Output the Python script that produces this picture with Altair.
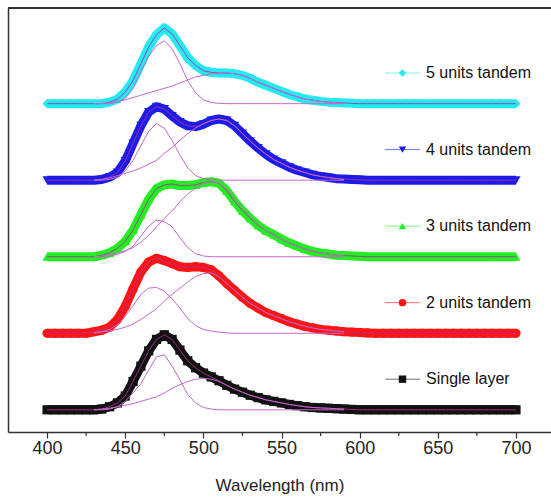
import altair as alt
import pandas as pd

# wavelength grid of the measured spectra (nm)
wavelengths = list(range(400, 705, 5))
# wavelength grid of the fitted Gaussian components (nm)
comp_wavelengths = list(range(430, 595, 5))

series_names = ["Single layer", "2 units tandem", "3 units tandem", "4 units tandem", "5 units tandem"]
series_offsets = [0, 1, 2, 3, 4]
series_colors = ["#111111", "#ff1414", "#22ee22", "#1c1ce6", "#22eaf0"]
series_shapes = ["square", "circle", "triangle-up", "triangle-down", "diamond"]

Z20 = [0.0] * 20

single_layer = [0, 0, 0, 0, 0, 0, 0,
                0.01, 0.04, 0.09, 0.18, 0.37, 0.57, 0.77, 0.92, 0.98, 0.92, 0.78, 0.64, 0.55, 0.48,
                0.43, 0.38, 0.32, 0.27, 0.23, 0.19, 0.16, 0.13, 0.11, 0.09, 0.07, 0.055, 0.04, 0.03,
                0.025, 0.02, 0.015, 0.01, 0.005, 0.0] + Z20
units2 = [0, 0, 0, 0, 0, 0,
          0.02, 0.04, 0.08, 0.18, 0.35, 0.58, 0.80, 0.93, 0.98, 0.95, 0.91, 0.87, 0.86, 0.87,
          0.86, 0.83, 0.75, 0.65, 0.56, 0.47, 0.39, 0.33, 0.27, 0.23, 0.19, 0.15, 0.12, 0.09,
          0.07, 0.05, 0.04, 0.03, 0.02, 0.015, 0.01, 0.005] + [0.0] * 19
units3 = [0, 0, 0, 0, 0, 0, 0,
          0.02, 0.05, 0.11, 0.20, 0.35, 0.55, 0.75, 0.89, 0.94, 0.95, 0.93, 0.93, 0.94, 0.97,
          0.98, 0.96, 0.86, 0.72, 0.60, 0.50, 0.41, 0.34, 0.29, 0.23, 0.18, 0.14, 0.10, 0.07,
          0.05, 0.035, 0.02, 0.015, 0.01, 0.005] + Z20
units4 = [0, 0, 0, 0, 0, 0, 0,
          0.01, 0.04, 0.10, 0.25, 0.48, 0.71, 0.89, 0.96, 0.93, 0.84, 0.76, 0.71, 0.70, 0.73,
          0.78, 0.80, 0.78, 0.71, 0.61, 0.51, 0.42, 0.34, 0.27, 0.22, 0.17, 0.13, 0.10, 0.07,
          0.05, 0.035, 0.02, 0.015, 0.01, 0.005] + Z20
units5 = [0, 0, 0, 0, 0, 0, 0, 0,
          0.02, 0.06, 0.15, 0.30, 0.52, 0.74, 0.90, 0.99, 0.91, 0.76, 0.60, 0.50, 0.43,
          0.41, 0.40, 0.40, 0.39, 0.37, 0.33, 0.28, 0.24, 0.20, 0.16, 0.12, 0.09, 0.06, 0.045,
          0.03, 0.02, 0.015, 0.01, 0.005, 0.0] + Z20

# Gaussian fit components, 430..590 nm
c1_single = [0, 0, 0.01, 0.04, 0.11, 0.22, 0.34, 0.52, 0.69, 0.72, 0.57, 0.39, 0.20, 0.09, 0.03, 0.01] + [0.0] * 17
c2_single = [0, 0.01, 0.02, 0.04, 0.06, 0.08, 0.11, 0.14, 0.17, 0.22, 0.28, 0.33, 0.37, 0.40, 0.41, 0.40,
             0.37, 0.32, 0.27, 0.23, 0.19, 0.16, 0.13, 0.11, 0.09, 0.07, 0.055, 0.04, 0.03, 0.025, 0.02, 0.015, 0.01]
c1_2u = [0, 0.02, 0.05, 0.11, 0.22, 0.36, 0.51, 0.59, 0.60, 0.55, 0.45, 0.33, 0.19, 0.10, 0.05, 0.03, 0.015, 0.005] + [0.0] * 15
c2_2u = [0.01, 0.02, 0.03, 0.05, 0.08, 0.12, 0.18, 0.25, 0.32, 0.42, 0.51, 0.59, 0.67, 0.74, 0.78, 0.79,
         0.74, 0.65, 0.56, 0.47, 0.39, 0.33, 0.27, 0.23, 0.19, 0.15, 0.12, 0.09, 0.07, 0.05, 0.04, 0.03, 0.02]
c1_3u = [0, 0, 0.01, 0.03, 0.07, 0.14, 0.27, 0.40, 0.48, 0.46, 0.39, 0.25, 0.12, 0.04, 0.01] + [0.0] * 18
c2_3u = [0, 0.01, 0.03, 0.05, 0.08, 0.12, 0.19, 0.28, 0.39, 0.50, 0.60, 0.72, 0.82, 0.90, 0.96, 0.98,
         0.96, 0.88, 0.76, 0.63, 0.52, 0.42, 0.34, 0.28, 0.23, 0.18, 0.14, 0.10, 0.07, 0.05, 0.035, 0.02, 0.01]
c1_4u = [0, 0, 0.01, 0.04, 0.12, 0.26, 0.45, 0.64, 0.74, 0.68, 0.52, 0.33, 0.16, 0.06, 0.02, 0.005] + [0.0] * 17
c2_4u = [0, 0.01, 0.03, 0.06, 0.09, 0.12, 0.16, 0.21, 0.26, 0.35, 0.43, 0.52, 0.61, 0.68, 0.74, 0.78,
         0.80, 0.78, 0.71, 0.61, 0.51, 0.42, 0.34, 0.27, 0.22, 0.17, 0.13, 0.10, 0.07, 0.05, 0.035, 0.02, 0.01]
c1_5u = [0, 0, 0, 0.02, 0.07, 0.20, 0.42, 0.62, 0.76, 0.82, 0.72, 0.52, 0.30, 0.14, 0.05, 0.015, 0.005] + [0.0] * 16
c2_5u = [0, 0, 0.01, 0.03, 0.05, 0.08, 0.11, 0.14, 0.17, 0.20, 0.23, 0.27, 0.31, 0.35, 0.37, 0.39,
         0.40, 0.40, 0.39, 0.37, 0.33, 0.28, 0.24, 0.20, 0.16, 0.12, 0.09, 0.06, 0.045, 0.03, 0.02, 0.01, 0.005]

x_ticks = [400, 450, 500, 550, 600, 650, 700]
x_minor_ticks = [425, 475, 525, 575, 625, 675]

spectra = [single_layer, units2, units3, units4, units5]
components = [(c1_single, c2_single), (c1_2u, c2_2u), (c1_3u, c2_3u), (c1_4u, c2_4u), (c1_5u, c2_5u)]

rows = []
for name, off, vals in zip(series_names, series_offsets, spectra):
    assert len(vals) == len(wavelengths), (name, len(vals))
    for w, v in zip(wavelengths, vals):
        rows.append({"wl": w, "series": name, "y": v + off})
df = pd.DataFrame(rows)

crow = []
for name, off, (c1, c2) in zip(series_names, series_offsets, components):
    for k, comp in enumerate((c1, c2)):
        assert len(comp) == len(comp_wavelengths), (name, k, len(comp))
        for w, v in zip(comp_wavelengths, comp):
            crow.append({"wl": w, "comp": f"{name}-{k}", "y": v + off})
cdf = pd.DataFrame(crow)

leg = pd.DataFrame({"series": series_names, "off": series_offsets})

W, H = 543, 424
xscale = alt.Scale(domain=[375, 722.4], nice=False, zero=False)
yscale = alt.Scale(domain=[-0.29, 5.25], nice=False, zero=False)
cscale = alt.Scale(domain=series_names, range=series_colors)
sscale = alt.Scale(domain=series_names, range=series_shapes)

X = alt.X("wl:Q", scale=xscale,
          axis=alt.Axis(values=x_ticks, title="Wavelength (nm)", grid=False, tickSize=6,
                        tickWidth=1.2, tickColor="#333", domainColor="#333", domainWidth=1.5,
                        labelFontSize=18, labelColor="#222", labelPadding=1, labelFont="Liberation Sans",
                        titleFont="Liberation Sans", titleFontSize=17, titleFontWeight="normal",
                        titleColor="#222", titlePadding=20))
Y = alt.Y("y:Q", scale=yscale,
          axis=alt.Axis(title=None, labels=False, ticks=False, grid=False, domainColor="#333", domainWidth=1.5))

base = alt.Chart(df)
band = base.mark_line(strokeWidth=9, strokeJoin="round").encode(
    x=X, y=Y, color=alt.Color("series:N", scale=cscale, legend=None), detail="series:N")
pts = base.mark_point(filled=True, size=85, opacity=1).encode(
    x=X, y=Y, color=alt.Color("series:N", scale=cscale, legend=None),
    shape=alt.Shape("series:N", scale=sscale, legend=None))
fit = base.mark_line(strokeWidth=1, color="#b02c9c", opacity=0.85).encode(x=X, y=Y, detail="series:N")
comps = alt.Chart(cdf).mark_line(strokeWidth=1, color="#c468cc").encode(
    x=alt.X("wl:Q", scale=xscale), y=alt.Y("y:Q", scale=yscale), detail="comp:N")

lbase = alt.Chart(leg).transform_calculate(ly="datum.off + 0.40")
leg_line = lbase.mark_rule(strokeWidth=1, opacity=0.6).encode(
    x=alt.value(377), x2=alt.value(412), y=alt.Y("ly:Q", scale=yscale),
    color=alt.Color("series:N", scale=cscale, legend=None))
leg_pt = lbase.mark_point(filled=True, size=55, opacity=1).encode(
    x=alt.value(394.5), y=alt.Y("ly:Q", scale=yscale),
    color=alt.Color("series:N", scale=cscale, legend=None),
    shape=alt.Shape("series:N", scale=sscale, legend=None))
leg_txt = lbase.mark_text(align="left", baseline="middle", fontSize=16, font="Liberation Sans",
                          color="#111").encode(
    x=alt.value(418), y=alt.Y("ly:Q", scale=yscale), text="series:N")

top_line = alt.Chart(leg).mark_rule(color="#333", strokeWidth=1.5).encode(
    x=alt.value(0), x2=alt.value(W), y=alt.value(0))
minor = alt.Chart(pd.DataFrame({"t": x_minor_ticks})).mark_rule(color="#333", strokeWidth=1.2).encode(
    x=alt.X("t:Q", scale=xscale), y=alt.value(H), y2=alt.value(H + 4))

chart = alt.layer(band, pts, fit, comps, leg_line, leg_pt, leg_txt, top_line, minor).properties(
    width=W, height=H,
    autosize=alt.AutoSizeParams(type="none"),
    padding={"left": 8, "top": 8, "right": 0, "bottom": 65},
    background="white",
).configure_view(stroke=None)

chart.save("out.html", embed_options={"renderer": "svg", "actions": False})
